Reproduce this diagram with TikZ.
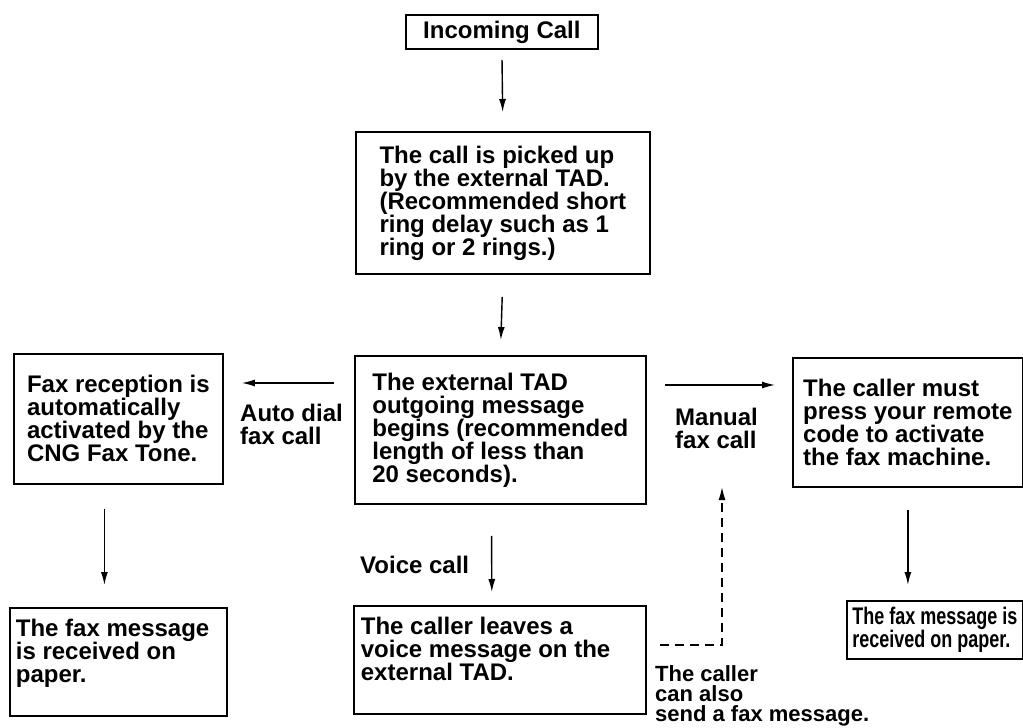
\documentclass[tikz,border=0pt]{standalone}
\usepackage{fontspec}
\setmainfont{Liberation Sans}
\newfontfamily\narrowsans[FakeStretch=0.75]{Liberation Sans}
\usetikzlibrary{arrows.meta}
\setlength{\lineskiplimit}{-30pt}

\begin{document}
\begin{tikzpicture}[
	x=1pt, y=-1pt,
	every node/.style={ font=\bfseries\fontsize{24}{23}\selectfont },
	box/.style={ draw, line width=1.8pt, anchor=north west, align=flush left, inner sep=0pt },
	lbl/.style={ anchor=north west, align=left, inner sep=0pt },
	arrow/.style={ line width=1.4pt, -{Latex[length=13pt,width=7pt]} },
	dasharrow/.style={ line width=1.4pt, dash pattern=on 9pt off 6pt, -{Latex[length=13pt,width=7pt]} }
]
\useasboundingbox (0,0) rectangle (1023,728);

\node at (405,14) (inc) [box, minimum width=192pt, minimum height=34pt] {Incoming Call};
\node at (355,131) (pick) [box, minimum width=294pt, minimum height=142pt] {The call is picked up\\by the external TAD.\\(Recommended short\\ring delay such as 1\\ring or 2 rings.)};
\draw[arrow, shorten <=10pt, shorten >=19pt] (inc.south) -- (pick.north);
\node at (354,355) (tad) [box, minimum width=291pt, minimum height=148pt] {The external TAD\\outgoing message\\begins (recommended\\length of less than\\20 seconds).};
\draw[arrow, shorten <=22pt, shorten >=15pt] (pick.south) -- (tad.north);
\node at (13,353) (faxrx) [box, minimum width=209pt, minimum height=130pt] {Fax reception is\\automatically\\activated by the\\CNG Fax Tone.};
\draw[arrow, shorten <=20pt, shorten >=18pt] ([yshift=-28pt]tad.north west) -- ([yshift=-30pt]faxrx.north east);
\node at (792,357) (press) [box, minimum width=230pt, minimum height=129pt] {The caller must\\press your remote\\code to activate\\the fax machine.};
\draw[arrow, shorten <=18pt, shorten >=17pt] ([yshift=-30pt]tad.north east) -- ([yshift=-28pt]press.north west);
\node at (9,607) (fax1) [box, text width=205pt, inner xsep=6pt, minimum height=108pt] {The fax message\\is received on\\paper.\\\mbox{}};
\draw[arrow, shorten <=24pt, shorten >=22pt] ([xshift=-14pt]faxrx.south) -- ([xshift=-14pt]fax1.north);
\node at (353,605) (voice) [box, text width=278pt, inner xsep=7pt, minimum height=108pt] {The caller leaves a\\voice message on the\\external TAD.\\\mbox{}};
\draw[arrow, shorten <=31pt, shorten >=13pt] ([xshift=-9pt]tad.south) -- ([xshift=-8pt]voice.north);
\node at (846,600) (fax2) [box, minimum width=176pt, minimum height=58pt, font=\narrowsans\bfseries\fontsize{24}{23}\selectfont] {The fax message is\\received on paper.};
\draw[arrow, shorten <=22pt, shorten >=15pt] (press.south) -- (press.south |- fax2.north);

\node at (240,404) (auto) [lbl] {Auto dial\\fax call};
\node at (675,408) (manual) [lbl] {Manual\\fax call};
\node at (360,573) (vcall) [lbl, anchor=base west] {Voice call};
\node at (655,665) (also) [lbl, font=\bfseries\fontsize{22}{20}\selectfont] {The caller\\can also\\send a fax message.};

\coordinate (dstart) at (660,645);
\coordinate (dend) at (722,487);
\draw[dasharrow] (dstart) -- (dend |- dstart) -- (dend);

\end{tikzpicture}
\end{document}
